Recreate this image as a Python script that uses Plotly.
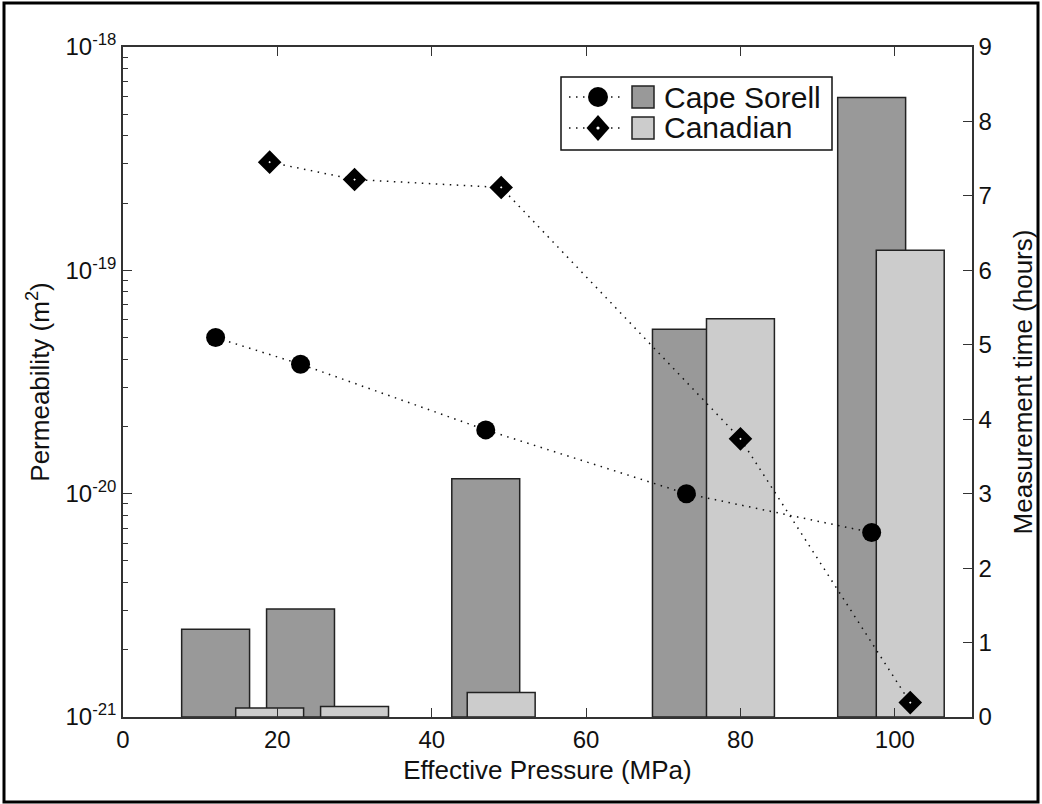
import plotly.graph_objects as go

# ---------------- data ----------------
series_names = ["Cape Sorell", "Canadian"]

pressure_cs = [12, 23, 47, 73, 97]
perm_cs = [5.0e-20, 3.8e-20, 1.93e-20, 1.0e-20, 6.7e-21]
time_cs = [1.18, 1.45, 3.20, 5.21, 8.32]

pressure_ca = [19, 30, 49, 80, 102]
perm_ca = [3.05e-19, 2.55e-19, 2.35e-19, 1.76e-20, 1.16e-21]
time_ca = [0.12, 0.14, 0.33, 5.35, 6.27]

x_ticks = [0, 20, 40, 60, 80, 100]
perm_exponents = [-21, -20, -19, -18]
perm_ticks = [10.0 ** e for e in perm_exponents]
perm_ticktext = ["10<sup>%d</sup>" % e for e in perm_exponents]
time_ticks = list(range(0, 10))

# ---------------- styles ----------------
FONT = "Liberation Sans, Arial, Helvetica, sans-serif"
AX = "#333333"
bar_colors = ["#999999", "#cccccc"]
DOT = "1.5px,5.5px"

W, H = 1042, 804
ML, MR, MT, MB = 123, 70, 47, 87
PW, PH = W - ML - MR, H - MT - MB


def px(x):
    return (x - ML) / PW


def py(y):
    return (H - MB - y) / PH


fig = go.Figure()

fig.add_bar(x=pressure_cs, y=time_cs, width=8.8, name=series_names[0] + " time",
            marker=dict(color=bar_colors[0], line=dict(color="#222222", width=1.5)),
            showlegend=False, xaxis="x", yaxis="y")
fig.add_bar(x=pressure_ca, y=time_ca, width=8.8, name=series_names[1] + " time",
            marker=dict(color=bar_colors[1], line=dict(color="#222222", width=1.5)),
            showlegend=False, xaxis="x", yaxis="y")

fig.add_scatter(x=pressure_cs, y=perm_cs, mode="lines+markers", name=series_names[0],
                line=dict(color="#111111", width=1.5, dash=DOT),
                marker=dict(symbol="circle", size=19, color="black"),
                showlegend=False, xaxis="x", yaxis="y2")
fig.add_scatter(x=pressure_ca, y=perm_ca, mode="lines+markers", name=series_names[1],
                line=dict(color="#111111", width=1.5, dash=DOT),
                marker=dict(symbol="diamond", size=10, color="white",
                            line=dict(color="black", width=7.5)),
                showlegend=False, xaxis="x", yaxis="y2")

minor_vals = [k * 10.0 ** e for e in perm_exponents[:-1] for k in range(2, 10)]

axis_common = dict(showgrid=False, zeroline=False, showline=True, linecolor=AX, linewidth=1.5,
                   ticks="inside", ticklen=9, tickwidth=1.3, tickcolor=AX, automargin=False,
                   tickfont=dict(family=FONT, size=24, color="#111111"))

fig.update_layout(
    width=W, height=H,
    margin=dict(l=ML, r=MR, t=MT, b=MB, autoexpand=False),
    paper_bgcolor="white", plot_bgcolor="white",
    barmode="overlay",
    showlegend=False,
    font=dict(family=FONT, color="#111111"),
    xaxis=dict(range=[0, 110], tickmode="array", tickvals=x_ticks, mirror="ticks",
               title=dict(text="Effective Pressure (MPa)", font=dict(size=26), standoff=9),
               **axis_common),
    yaxis=dict(range=[0, 9], tickmode="array", tickvals=time_ticks, side="right",
               title=dict(text="Measurement time (hours)", font=dict(size=26), standoff=23),
               **axis_common),
    yaxis2=dict(type="log", range=[-21, -18], overlaying="y", side="left",
                tickmode="array", tickvals=perm_ticks, ticktext=perm_ticktext,
                minor=dict(ticks="inside", ticklen=5, tickcolor=AX, tickwidth=1.2,
                           tickmode="array", tickvals=minor_vals, showgrid=False),
                title=dict(text="Permeability (m<sup>2</sup>)", font=dict(size=26), standoff=8),
                **axis_common),
)

shapes = []
annotations = []

# outer figure frame
shapes.append(dict(type="rect", xref="paper", yref="paper",
                   x0=px(4), x1=px(1038), y0=py(802), y1=py(3),
                   line=dict(color="black", width=3), fillcolor="rgba(0,0,0,0)", layer="above"))

# legend box
shapes.append(dict(type="rect", xref="paper", yref="paper",
                   x0=px(561), x1=px(832), y0=py(150), y1=py(77),
                   line=dict(color="#111111", width=1.5), fillcolor="white", layer="below"))

legend_rows = [97, 128]
for i, yrow in enumerate(legend_rows):
    # dotted sample line
    shapes.append(dict(type="line", xref="paper", yref="paper",
                       x0=px(569), x1=px(625), y0=py(yrow), y1=py(yrow),
                       line=dict(color="#111111", width=1.5, dash=DOT), layer="above"))
    # marker glyph
    if i == 0:
        shapes.append(dict(type="circle", xref="paper", yref="paper",
                           xsizemode="pixel", ysizemode="pixel",
                           xanchor=px(598), yanchor=py(yrow),
                           x0=-10, x1=10, y0=-10, y1=10,
                           fillcolor="black", line=dict(color="black", width=0), layer="above"))
    else:
        shapes.append(dict(type="path", xref="paper", yref="paper",
                           xsizemode="pixel", ysizemode="pixel",
                           xanchor=px(598), yanchor=py(yrow),
                           path="M0,13 L11.5,0 L0,-13 L-11.5,0 Z",
                           fillcolor="black", line=dict(color="black", width=0), layer="above"))
        shapes.append(dict(type="circle", xref="paper", yref="paper",
                           xsizemode="pixel", ysizemode="pixel",
                           xanchor=px(598), yanchor=py(yrow),
                           x0=-1.6, x1=1.6, y0=-1.6, y1=1.6,
                           fillcolor="white", line=dict(color="white", width=0), layer="above"))
    # bar patch
    shapes.append(dict(type="rect", xref="paper", yref="paper",
                       x0=px(632), x1=px(654), y0=py(yrow + 11), y1=py(yrow - 11),
                       fillcolor=bar_colors[i], line=dict(color="#222222", width=1.5), layer="above"))
    annotations.append(dict(xref="paper", yref="paper", x=px(663), y=py(yrow),
                            xanchor="left", yanchor="middle", showarrow=False, borderpad=0,
                            text=series_names[i], font=dict(family=FONT, size=30, color="#111111")))

fig.update_layout(shapes=shapes, annotations=annotations)

fig.write_html(
    "out.html",
    config={"displayModeBar": False},
    post_script="document.body.style.margin='0';document.body.style.overflow='hidden';",
)
